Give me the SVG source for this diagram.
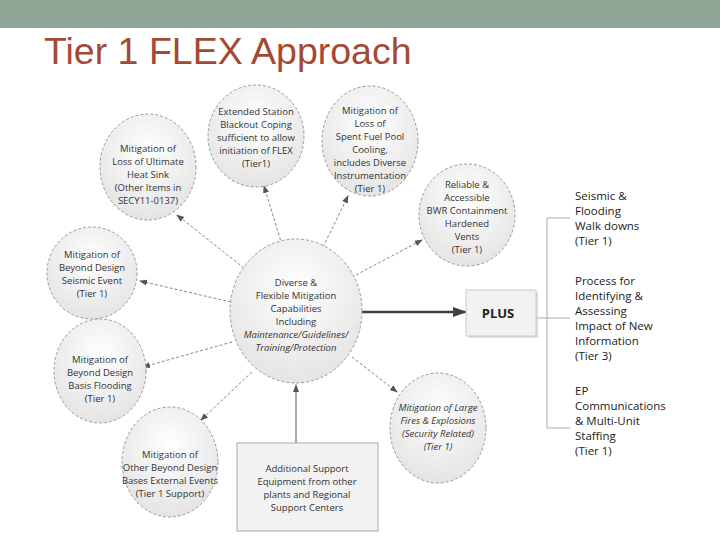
<svg xmlns="http://www.w3.org/2000/svg" width="720" height="540" viewBox="0 0 720 540">
<defs>
<radialGradient id="g" cx="0.5" cy="0.35" r="0.7"><stop offset="0" stop-color="#ffffff"/><stop offset="1" stop-color="#e2e2e2"/></radialGradient>
<marker id="a" markerWidth="8" markerHeight="8" refX="7" refY="4" orient="auto" markerUnits="userSpaceOnUse"><path d="M0,1 L8,4 L0,7z" fill="#555"/></marker>
<marker id="b" markerWidth="14" markerHeight="12" refX="13" refY="6" orient="auto" markerUnits="userSpaceOnUse"><path d="M0,1 L14,6 L0,11z" fill="#404040"/></marker>
</defs>
<style>
.c{fill:url(#g);stroke:#9a9a9a;stroke-dasharray:3 2;stroke-width:1}
.t{font-family:"Open Sans","Liberation Sans",sans-serif;font-size:9.5px;fill:#333;text-anchor:middle}
.r{font-family:"Open Sans","Liberation Sans",sans-serif;font-size:11.5px;fill:#222}
.d{stroke:#888;stroke-dasharray:3 2;fill:none;marker-end:url(#a)}
</style>
<rect x="0" y="0" width="720" height="28" fill="#8fa596"/>
<text x="44" y="64" font-family="Liberation Sans,sans-serif" font-size="37.5" fill="#a34a35">Tier 1 FLEX Approach</text>
<g id="connectors">
<line class="d" x1="282" y1="245" x2="264" y2="186"/>
<line class="d" x1="323" y1="247" x2="348" y2="196"/>
<line class="d" x1="244" y1="268" x2="177" y2="215"/>
<line class="d" x1="356" y1="275" x2="422" y2="240"/>
<line class="d" x1="231" y1="302" x2="140" y2="281"/>
<line class="d" x1="232" y1="342" x2="143" y2="367"/>
<line class="d" x1="252" y1="372" x2="201" y2="420"/>
<line class="d" x1="352" y1="357" x2="397" y2="392"/>
<line x1="296" y1="443" x2="296" y2="385" stroke="#555" stroke-width="1" marker-end="url(#a)"/>
<line x1="361" y1="312" x2="466" y2="312" stroke="#404040" stroke-width="2.5" marker-end="url(#b)"/>
<path d="M536,318 H570 M570,218 H547 V428 H570" stroke="#aaa" fill="none"/>
</g>
<g id="n-center"><ellipse class="c" cx="296" cy="311" rx="66" ry="72"/>
<text class="t" y="286"><tspan x="296">Diverse &amp;</tspan><tspan x="296" dy="13">Flexible Mitigation</tspan><tspan x="296" dy="13">Capabilities</tspan><tspan x="296" dy="13">Including</tspan><tspan x="296" dy="13" font-style="italic">Maintenance/Guidelines/</tspan><tspan x="296" dy="13" font-style="italic">Training/Protection</tspan></text></g>
<g id="n-sbo"><ellipse class="c" cx="256" cy="136" rx="48" ry="51"/>
<text class="t" y="115"><tspan x="256">Extended Station</tspan><tspan x="256" dy="13">Blackout Coping</tspan><tspan x="256" dy="13">sufficient to allow</tspan><tspan x="256" dy="13">initiation of FLEX</tspan><tspan x="256" dy="13">(Tier1)</tspan></text></g>
<g id="n-sfp"><ellipse class="c" cx="370" cy="141" rx="48" ry="55"/>
<text class="t" y="114"><tspan x="370">Mitigation of</tspan><tspan x="370" dy="13">Loss of</tspan><tspan x="370" dy="13">Spent Fuel Pool</tspan><tspan x="370" dy="13">Cooling,</tspan><tspan x="370" dy="13">includes Diverse</tspan><tspan x="370" dy="13">Instrumentation</tspan><tspan x="370" dy="13">(Tier 1)</tspan></text></g>
<g id="n-uhs"><ellipse class="c" cx="148" cy="167" rx="48" ry="53"/>
<text class="t" y="152"><tspan x="148">Mitigation of</tspan><tspan x="148" dy="13">Loss of Ultimate</tspan><tspan x="148" dy="13">Heat Sink</tspan><tspan x="148" dy="13">(Other Items in</tspan><tspan x="148" dy="13">SECY11-0137)</tspan></text></g>
<g id="n-bwr"><ellipse class="c" cx="467" cy="215" rx="48" ry="51"/>
<text class="t" y="188"><tspan x="467">Reliable &amp;</tspan><tspan x="467" dy="13">Accessible</tspan><tspan x="467" dy="13">BWR Containment</tspan><tspan x="467" dy="13">Hardened</tspan><tspan x="467" dy="13">Vents</tspan><tspan x="467" dy="13">(Tier 1)</tspan></text></g>
<g id="n-seis"><ellipse class="c" cx="92" cy="273" rx="45" ry="46"/>
<text class="t" y="258"><tspan x="92">Mitigation of</tspan><tspan x="92" dy="13">Beyond Design</tspan><tspan x="92" dy="13">Seismic Event</tspan><tspan x="92" dy="13">(Tier 1)</tspan></text></g>
<g id="n-flood"><ellipse class="c" cx="100" cy="371" rx="46" ry="52"/>
<text class="t" y="363"><tspan x="100">Mitigation of</tspan><tspan x="100" dy="13">Beyond Design</tspan><tspan x="100" dy="13">Basis Flooding</tspan><tspan x="100" dy="13">(Tier 1)</tspan></text></g>
<g id="n-other"><ellipse class="c" cx="170" cy="462" rx="48" ry="55"/>
<text class="t" y="458"><tspan x="170">Mitigation of</tspan><tspan x="170" dy="13">Other Beyond Design</tspan><tspan x="170" dy="13">Bases External Events</tspan><tspan x="170" dy="13">(Tier 1 Support)</tspan></text></g>
<g id="n-fire"><ellipse class="c" cx="438" cy="428" rx="48" ry="55"/>
<text class="t" y="411" font-style="italic"><tspan x="438">Mitigation of Large</tspan><tspan x="438" dy="13">Fires &amp; Explosions</tspan><tspan x="438" dy="13">(Security Related)</tspan><tspan x="438" dy="13">(Tier 1)</tspan></text></g>
<g id="n-support"><rect x="237" y="443" width="141" height="88" fill="#f2f2f2" stroke="#aaa"/>
<text class="t" y="472"><tspan x="307">Additional Support</tspan><tspan x="307" dy="13">Equipment from other</tspan><tspan x="307" dy="13">plants and Regional</tspan><tspan x="307" dy="13">Support Centers</tspan></text></g>
<g id="n-plus"><rect x="468" y="292" width="70" height="46" fill="#bbb" opacity="0.5"/><rect x="466" y="290" width="70" height="46" fill="#f2f2f2" stroke="#ccc"/>
<text x="498" y="318" font-family="Open Sans,Liberation Sans,sans-serif" font-size="13" font-weight="bold" text-anchor="middle" fill="#222">PLUS</text></g>
<g id="n-right">
<text class="r" y="200"><tspan x="575">Seismic &amp;</tspan><tspan x="575" dy="15">Flooding</tspan><tspan x="575" dy="15">Walk downs</tspan><tspan x="575" dy="15">(Tier 1)</tspan></text>
<text class="r" y="285"><tspan x="575">Process for</tspan><tspan x="575" dy="15">Identifying &amp;</tspan><tspan x="575" dy="15">Assessing</tspan><tspan x="575" dy="15">Impact of New</tspan><tspan x="575" dy="15">Information</tspan><tspan x="575" dy="15">(Tier 3)</tspan></text>
<text class="r" y="395"><tspan x="575">EP</tspan><tspan x="575" dy="15">Communications</tspan><tspan x="575" dy="15">&amp; Multi-Unit</tspan><tspan x="575" dy="15">Staffing</tspan><tspan x="575" dy="15">(Tier 1)</tspan></text>
</g>
</svg>
